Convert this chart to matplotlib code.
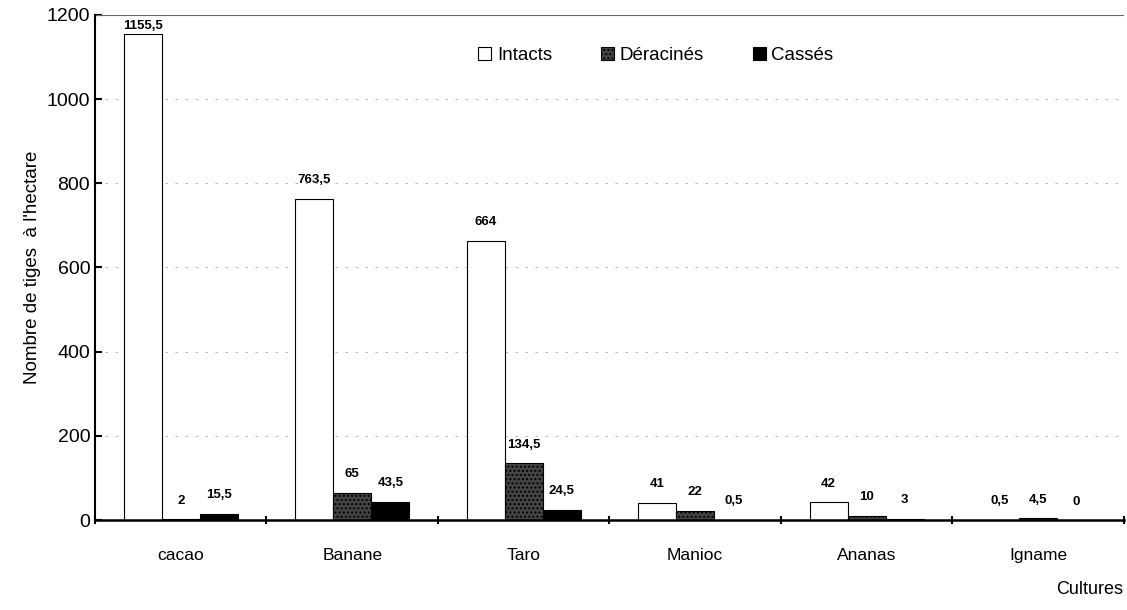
import numpy as np
import matplotlib
matplotlib.use("Agg")
import matplotlib.pyplot as plt

plt.rcParams['font.family'] = ['Liberation Sans', 'DejaVu Sans']

# data
cultures = ["cacao", "Banane", "Taro", "Manioc", "Ananas", "Igname"]
intacts = [1155.5, 763.5, 664, 41, 42, 0.5]
deracines = [2, 65, 134.5, 22, 10, 4.5]
casses = [15.5, 43.5, 24.5, 0.5, 3, 0]

def fmt(v):
    return ("%g" % v).replace(".", ",")

fig = plt.figure(figsize=(11.27, 6.10), dpi=100)
ax = fig.add_axes([0.0843, 0.1475, 0.913, 0.828])

x = np.arange(len(cultures))
w = 0.222

b1 = ax.bar(x - w, intacts, w, color="white", edgecolor="black", linewidth=0.8, label="Intacts")
b2 = ax.bar(x, deracines, w, color="#444444", edgecolor="black", linewidth=0.8,
            hatch="....", label="Déracinés")
b3 = ax.bar(x + w, casses, w, color="black", edgecolor="black", linewidth=0.8, label="Cassés")

for bars, vals in [(b1, intacts), (b2, deracines), (b3, casses)]:
    for rect, v in zip(bars, vals):
        off = 1 if v > 1100 else 9
        ax.annotate(fmt(v), (rect.get_x() + rect.get_width() / 2, rect.get_height()),
                    xytext=(0, off), textcoords="offset points",
                    ha="center", va="bottom", fontsize=9.5, fontweight="bold")

ax.set_xlim(-0.5, len(cultures) - 0.5)
ax.set_ylim(0, 1200)
ax.set_yticks(np.arange(0, 1201, 200))
ax.tick_params(axis="y", labelsize=14, direction="in", length=5, width=1.5)
ax.set_xticks(x)
ax.set_xticklabels(cultures, fontsize=12.5)
ax.tick_params(axis="x", length=0, pad=20)
# tick marks between categories
ax.set_xticks(np.arange(-0.5, len(cultures)), minor=True)
ax.tick_params(axis="x", which="minor", length=6, width=1.5, direction="inout")

ax.yaxis.grid(True, color="#aaaaaa", linestyle=(0, (3, 9)), linewidth=0.6)
ax.set_axisbelow(True)
for s in ["top", "right"]:
    ax.spines[s].set_visible(False)
ax.spines["left"].set_linewidth(1.5)
ax.spines["bottom"].set_linewidth(1.8)
ax.axhline(1200, color="#666666", linewidth=0.8)

ax.set_ylabel("Nombre de tiges  à l'hectare", fontsize=13.5)
fig.text(0.997, 0.02, "Cultures", ha="right", va="bottom", fontsize=13)

ax.legend(loc="upper center", bbox_to_anchor=(0.545, 0.97), ncol=3, frameon=False,
          fontsize=13.5, handlelength=0.7, handleheight=0.7, columnspacing=2.6,
          handletextpad=0.3)

fig.savefig("out.png", dpi=100)
